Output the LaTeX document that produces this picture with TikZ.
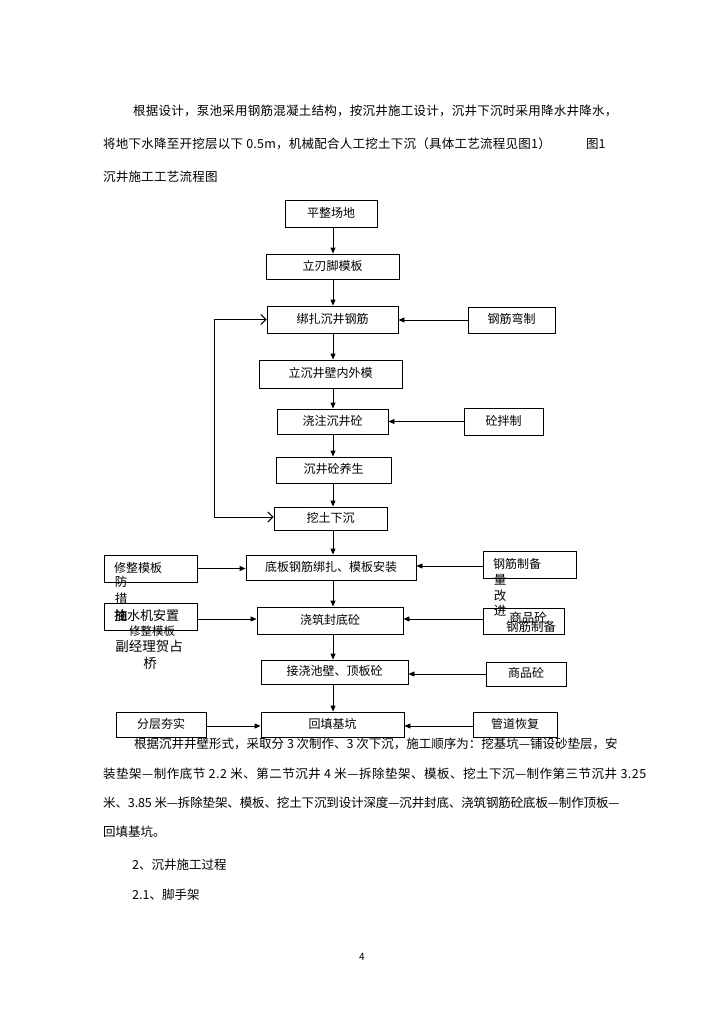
\documentclass[tikz,border=0pt]{standalone}
\usepackage{fontspec}
\setmainfont{Noto Sans CJK SC}
\usetikzlibrary{arrows.meta}
\begin{document}
\begin{tikzpicture}[x=1pt,y=-1pt,
  box/.style={draw,line width=0.9pt,inner sep=0pt,font=\fontsize{12}{14}\selectfont,text height=0.83em,text depth=0.07em},
  lbox/.style={box,align=left},
  arr/.style={line width=0.9pt,-{Triangle[length=6pt,width=5pt]}},
  loopline/.style={line width=1pt,{Straight Barb[length=5pt,width=10pt]}-{Straight Barb[length=5pt,width=10pt]}},
  para/.style={anchor=west,inner sep=0pt,font=\fontsize{12.5}{15}\selectfont,text height=0.83em,text depth=0.07em},
  stray/.style={inner sep=0pt,font=\fontsize{12.5}{15}\selectfont,text height=0.83em,text depth=0.07em}]
\useasboundingbox (0,0) rectangle (724,1024);
\fill[white] (0,0) rectangle (724,1024);

% top paragraph
\node[para] (t1) at (133,112) {\addfontfeatures{LetterSpace=2}根据设计，泵池采用钢筋混凝土结构，按沉井施工设计，沉井下沉时采用降水井降水，};
\node[para] (t2) at (103,145) {\addfontfeatures{LetterSpace=2}将地下水降至开挖层以下 0.5m，机械配合人工挖土下沉（具体工艺流程见图1）};
\node[para] (t2b) at (586,145) {图1};
\node[para] (t3) at (103,178) {\addfontfeatures{LetterSpace=2}沉井施工工艺流程图};

% main chain
\node[box,minimum width=92pt,minimum height=27pt] (b1) at (331,213.5) {平整场地};
\node[box,minimum width=133pt,minimum height=25pt] (b2) at (332.5,266.5) {立刃脚模板};
\node[box,minimum width=131pt,minimum height=27pt] (b3) at (332.5,319.5) {绑扎沉井钢筋};
\node[box,minimum width=143pt,minimum height=28pt] (b4) at (330.5,374) {立沉井壁内外模};
\node[box,minimum width=111pt,minimum height=25pt] (b5) at (332.5,421.5) {浇注沉井砼};
\node[box,minimum width=115pt,minimum height=26pt] (b6) at (333.5,470) {沉井砼养生};
\node[box,minimum width=113pt,minimum height=23pt] (b7) at (330.5,518.5) {挖土下沉};
\node[box,minimum width=170pt,minimum height=25pt] (b8) at (331,567.5) {底板钢筋绑扎、模板安装};
\node[box,minimum width=146pt,minimum height=27pt] (b9) at (330,620.5) {浇筑封底砼};
\node[box,minimum width=147pt,minimum height=24pt] (b10) at (334.5,672) {接浇池壁、顶板砼};
\node[box,minimum width=143pt,minimum height=25pt] (b11) at (332.5,724.5) {回填基坑};

% side boxes
\node[box,minimum width=87pt,minimum height=26pt] (r1) at (511.5,320) {钢筋弯制};
\node[box,minimum width=79pt,minimum height=27pt] (r2) at (503.5,421.5) {砼拌制};
\node[lbox,minimum width=93pt,minimum height=27pt,text width=73pt] (l1) at (150.5,568.5) {修整模板};
\node[lbox,minimum width=93pt,minimum height=27pt,text width=73pt] (r3) at (529.5,564.5) {钢筋制备};
\node[lbox,minimum width=93pt,minimum height=27pt,text width=73pt] (l2) at (150.5,616.5) {\fontsize{13}{15}\selectfont 抽水机安置};
\node[box,minimum width=81pt,minimum height=26pt] (r4) at (523.5,621) {};
\node[box,minimum width=80pt,minimum height=24pt] (r5) at (526,674) {商品砼};
\node[box,minimum width=90pt,minimum height=25pt] (l3) at (161,724.5) {分层夯实};
\node[box,minimum width=84pt,minimum height=25pt] (r6) at (515,724.5) {管道恢复};

% stray overflow texts
\node[stray] (s1) at (121,583) {防};
\node[stray] (s2) at (121,600) {措};
\node[stray] (s3) at (121,617) {施};
\node[stray,font=\fontsize{11.5}{14}\selectfont] (s4) at (152,632) {修整模板};
\node[stray,font=\fontsize{13.5}{15}\selectfont] (s5) at (149,648) {副经理贺占};
\node[stray,font=\fontsize{13.5}{15}\selectfont] (s6) at (150,665) {桥};
\node[stray] (s7) at (500,581) {量};
\node[stray] (s8) at (500,597) {改};
\node[stray] (s9) at (500,612) {进};
\node[stray] (s10) at (528,619) {商品砼};
\node[stray] (s11) at (531,628) {钢筋制备};

% vertical arrows
\coordinate (sp) at (333,0);
\foreach \a/\b in {b1/b2,b2/b3,b3/b4,b4/b5,b5/b6,b6/b7,b7/b8,b8/b9,b9/b10,b10/b11}
  \draw[arr] (\a.south -| sp) -- (\b.north -| sp);

% side arrows
\draw[arr] (r1.west) -- (r1.west -| b3.east);
\draw[arr] (r2.west) -- (r2.west -| b5.east);
\draw[arr] (l1.east) -- (l1.east -| b8.west);
\draw[arr] ([yshift=-1.5pt]r3.west) -- ([yshift=-1.5pt]r3.west -| b8.east);
\draw[arr] ([yshift=-2.5pt]l2.east) -- ([yshift=-2.5pt]l2.east -| b9.west);
\draw[arr] ([yshift=2pt]r4.west) -- ([yshift=2pt]r4.west -| b9.east);
\draw[arr] (r5.west) -- (r5.west -| b10.east);
\draw[arr] ([yshift=-1.5pt]l3.east) -- ([yshift=-1.5pt]l3.east -| b11.west);
\draw[arr] ([yshift=-1.5pt]r6.west) -- ([yshift=-1.5pt]r6.west -| b11.east);

% feedback loop
\coordinate (lx) at (214,0);
\draw[loopline] ([yshift=1.5pt]b7.west) -- ([yshift=1.5pt]b7.west -| lx) |- (b3.west);

% bottom paragraph
\node[para] (p1) at (134,745) {根据沉井井壁形式，采取分 3 次制作、3 次下沉，施工顺序为：挖基坑—铺设砂垫层，安};
\node[para] (p2) at (103,775) {\addfontfeatures{LetterSpace=4}装垫架—制作底节 2.2 米、第二节沉井 4 米—拆除垫架、模板、挖土下沉—制作第三节沉井 3.25};
\node[para] (p3) at (103,804) {\addfontfeatures{LetterSpace=-1}米、3.85 米—拆除垫架、模板、挖土下沉到设计深度—沉井封底、浇筑钢筋砼底板—制作顶板—};
\node[para] (p4) at (103,833) {回填基坑。};
\node[para] (p5) at (132,866) {2、沉井施工过程};
\node[para] (p6) at (132,896) {2.1、脚手架};
\node[inner sep=0pt,font=\fontsize{10}{12}\selectfont] (pg) at (362,957) {4};
\end{tikzpicture}
\end{document}
